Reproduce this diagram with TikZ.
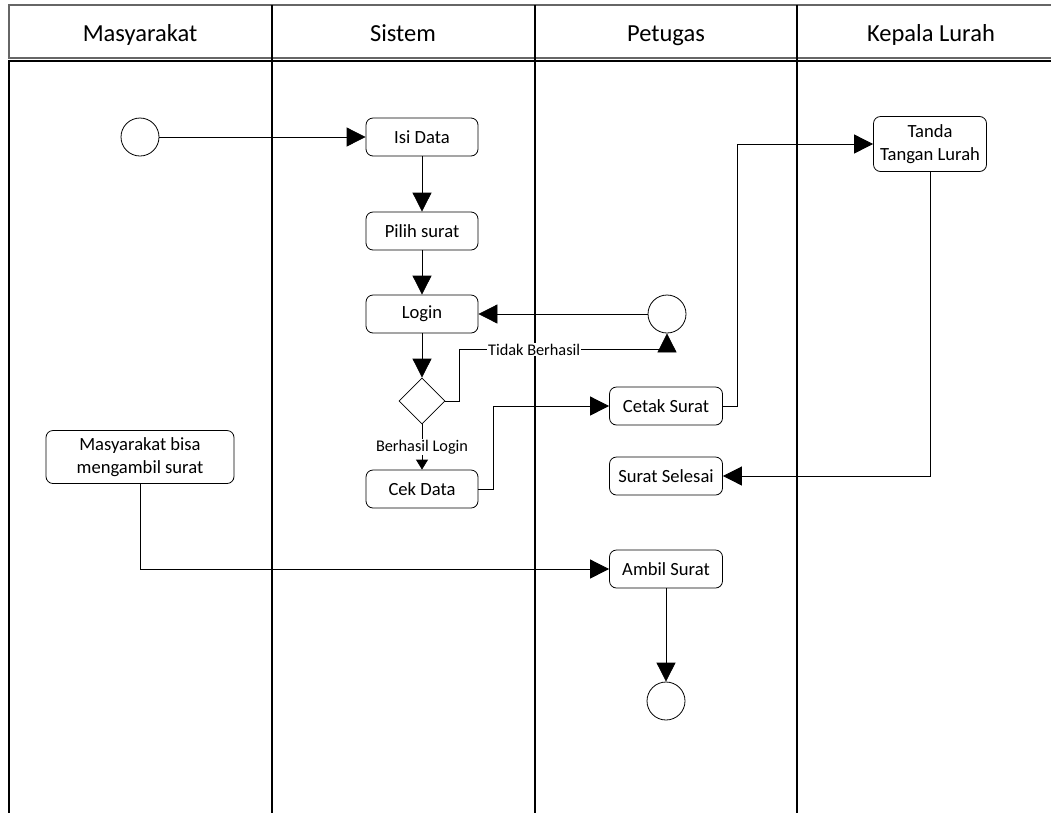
\documentclass[tikz,border=0pt]{standalone}
\usepackage{fontspec}
\setmainfont{Carlito}
\usetikzlibrary{arrows.meta, shapes.geometric}
\tikzstyle{activity} = [rectangle, rounded corners=7pt, draw=black, line width=0.8pt, minimum width=112pt, minimum height=38pt, text centered, align=center, inner sep=2pt, font=\fontsize{18.6}{23}\selectfont]
\tikzstyle{state} = [circle, draw=black, line width=0.8pt, minimum size=38pt, inner sep=0pt]
\tikzstyle{decision} = [diamond, draw=black, line width=0.8pt, minimum width=46pt, minimum height=46pt, inner sep=0pt]
\tikzstyle{arrow} = [line width=0.8pt, -{Triangle[length=19pt,width=19pt]}]
\tikzstyle{smallarrow} = [line width=0.8pt, -{Triangle[length=10pt,width=12pt]}]
\tikzstyle{lane} = [line width=1.4pt]
\tikzstyle{lanetitle} = [anchor=base, font=\fontsize{24.5}{28}\selectfont]
\tikzstyle{guard} = [fill=white, inner sep=1pt, font=\fontsize{16.3}{19}\selectfont]

\begin{document}
\begin{tikzpicture}[x=1pt, y=-1pt]
\useasboundingbox (0,0) rectangle (1051,812);
\clip (0,0) rectangle (1051,812);
% Lanes
\draw [lane, draw=black!60] (9,5) rectangle (1070,58);
\draw [lane] (9,61) rectangle (1070,830);
\foreach \x in {272,535,797} \draw [lane] (\x,5) -- (\x,830);
\node (masy) [lanetitle] at (140,41) {Masyarakat};
\node (sis) [lanetitle] at (403,41) {Sistem};
\node (pet) [lanetitle] at (666,41) {Petugas};
\node (kep) [lanetitle] at (931,41) {Kepala Lurah};

% Activities
\node (start) [state] at (140,137) {};
\node (isi) [activity] at (422,137) {Isi Data};
\node (pilih) [activity] at (422,231) {Pilih surat};
\node (login) [activity] at (422,314) {Login};
\node (dec) [decision] at (422,401) {};
\node (cek) [activity] at (422,489) {Cek Data};
\node (ulang) [state] at (667,314) {};
\node (cetak) [activity, minimum width=113pt] at (666,406) {Cetak Surat};
\node (selesai) [activity, minimum width=113pt] at (666,476) {Surat Selesai};
\node (ambil) [activity, minimum width=113pt] at (666,569) {Ambil Surat};
\node (end) [state] at (666,701) {};
\node (tanda) [activity, minimum width=113pt, minimum height=55pt] at (930,144) {Tanda\\Tangan Lurah};
\node (bisa) [activity, minimum width=188pt, minimum height=53pt] at (140,457) {Masyarakat bisa\\mengambil surat};

% Flows
\draw [arrow] (start) -- (isi);
\draw [arrow] (isi) -- (pilih);
\draw [arrow] (pilih) -- (login);
\draw [arrow] (login) -- (dec);
\draw [arrow] (ulang) -- (login);
\draw [arrow] (dec.east) -- ++(14,0) |- node[guard, pos=0.68] {Tidak Berhasil} ([yshift=-16pt]ulang.south) -- (ulang.south);
\draw [smallarrow] (dec.south) -- node[guard] {Berhasil Login} (cek.north);
\draw [arrow] (cek.east) -- ++(15,0) |- (cetak.west);
\draw [arrow] (cetak.east) -- ++(14,0) |- (tanda.west);
\draw [arrow] (tanda.south) |- (selesai.east);
\draw [arrow] (bisa.south) |- (ambil.west);
\draw [arrow] (ambil) -- (end);
\end{tikzpicture}
\end{document}
